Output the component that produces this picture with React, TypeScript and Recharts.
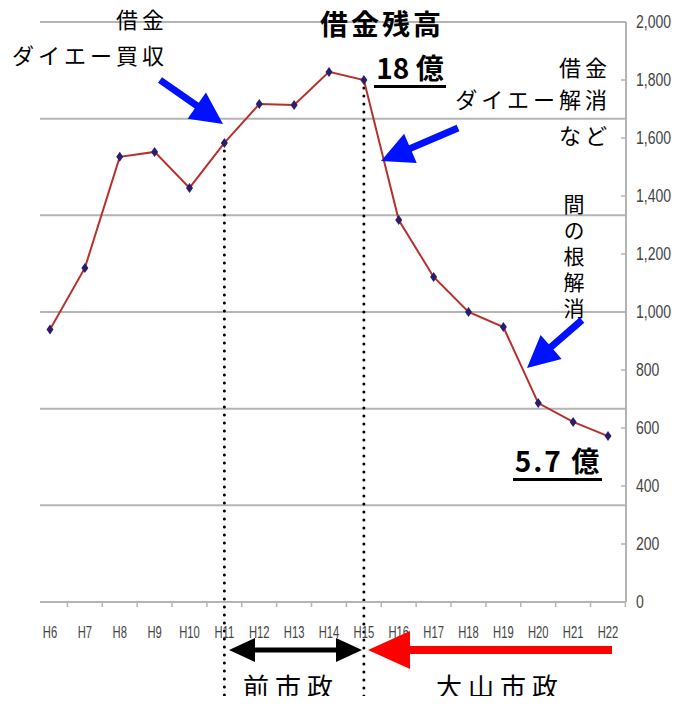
import { LineChart, Line, XAxis, YAxis, ReferenceLine } from "recharts";

const years = ["H6", "H7", "H8", "H9", "H10", "H11", "H12", "H13", "H14", "H15", "H16", "H17", "H18", "H19", "H20", "H21", "H22"];
const debt = [940, 1152, 1535, 1552, 1428, 1583, 1717, 1714, 1828, 1800, 1317, 1121, 1000, 948, 686, 621, 572];
const yTicks = [0, 200, 400, 600, 800, 1000, 1200, 1400, 1600, 1800, 2000];
const gridLevels = [333.3, 666.7, 1000, 1333.3, 1666.7, 2000];

const data = years.map((y, i) => ({ year: y, debt: debt[i] }));

const JP = '"Noto Sans CJK JP", "Noto Sans", sans-serif';
const AXIS_FONT = '"Liberation Sans", Arial, sans-serif';

function Diamond(props: any) {
  const { cx, cy } = props;
  if (cx == null || cy == null) return null;
  return <polygon points={`${cx},${cy - 5} ${cx + 3.5},${cy} ${cx},${cy + 5} ${cx - 3.5},${cy}`} fill="#2a1d6e" />;
}

// narrow excel-like tick labels
function YTick(props: any) {
  const { x, y, payload } = props;
  return (
    <g>
      <line x1={x - 5} y1={y} x2={x} y2={y} stroke="#b4b4b4" strokeWidth={1.5} />
      <text
        x={0}
        y={0}
        transform={`translate(${x + 10},${y + 1}) scale(0.78,1)`}
        fontSize={18}
        fill="#444"
        fontFamily={AXIS_FONT}
        dominantBaseline="middle"
      >
        {Number(payload.value).toLocaleString("en-US")}
      </text>
    </g>
  );
}

function XTick(props: any) {
  const { x, y, payload } = props;
  return (
    <g>
      <line x1={x + 17.4} y1={y} x2={x + 17.4} y2={y + 5} stroke="#b4b4b4" strokeWidth={1.5} />
      <text
        x={0}
        y={0}
        transform={`translate(${x},${y + 32}) scale(0.66,1)`}
        fontSize={17}
        fill="#444"
        fontFamily={AXIS_FONT}
        textAnchor="middle"
        dominantBaseline="middle"
      >
        {payload.value}
      </text>
    </g>
  );
}

// thick arrow: tail -> tip
function Arrow({ x1, y1, x2, y2, color, w = 7, hl = 32, hw = 32 }: any) {
  const dx = x2 - x1, dy = y2 - y1;
  const len = Math.hypot(dx, dy);
  const ux = dx / len, uy = dy / len;
  const nx = -uy, ny = ux;
  const bx = x2 - ux * hl, by = y2 - uy * hl;
  const pts = [
    [x1 + nx * w / 2, y1 + ny * w / 2],
    [bx + nx * w / 2, by + ny * w / 2],
    [bx + nx * hw / 2, by + ny * hw / 2],
    [x2, y2],
    [bx - nx * hw / 2, by - ny * hw / 2],
    [bx - nx * w / 2, by - ny * w / 2],
    [x1 - nx * w / 2, y1 - ny * w / 2],
  ];
  return <polygon points={pts.map((p) => p.join(",")).join(" ")} fill={color} />;
}

function DoubleArrow({ x1, x2, y, w = 5, hl = 26, hw = 24 }: any) {
  const pts = [
    [x1, y],
    [x1 + hl, y - hw / 2],
    [x1 + hl, y - w / 2],
    [x2 - hl, y - w / 2],
    [x2 - hl, y - hw / 2],
    [x2, y],
    [x2 - hl, y + hw / 2],
    [x2 - hl, y + w / 2],
    [x1 + hl, y + w / 2],
    [x1 + hl, y + hw / 2],
  ];
  return <polygon points={pts.map((p) => p.join(",")).join(" ")} fill="#000" />;
}

export default function App() {
  return (
    <div style={{ position: "relative", width: 686, height: 704, margin: -8, background: "#fff" }}>
      <LineChart width={686} height={704} data={data} margin={{ top: 22, right: 10, left: 40, bottom: 72 }}>
        {gridLevels.map((g) => (
          <ReferenceLine key={g} y={g} stroke="#b4b4b4" strokeWidth={2} />
        ))}
        <XAxis
          dataKey="year"
          padding={{ left: 10, right: 18 }}
          tickLine={false}
          tickSize={0}
          tickMargin={0}
          axisLine={{ stroke: "#b4b4b4", strokeWidth: 2 }}
          tick={<XTick />}
          interval={0}
          height={30}
        />
        <YAxis
          orientation="right"
          domain={[0, 2000]}
          ticks={yTicks}
          axisLine={{ stroke: "#b4b4b4", strokeWidth: 2 }}
          tickLine={false}
          tickSize={0}
          tickMargin={0}
          tick={<YTick />}
          width={50}
        />
        <ReferenceLine
          segment={[{ x: "H11", y: 1583 }, { x: "H11", y: -360 }]}
          ifOverflow="visible"
          stroke="#000"
          strokeWidth={3}
          strokeDasharray="0 8"
          strokeLinecap="round"
        />
        <ReferenceLine
          segment={[{ x: "H15", y: 1800 }, { x: "H15", y: -360 }]}
          ifOverflow="visible"
          stroke="#000"
          strokeWidth={3}
          strokeDasharray="0 8"
          strokeLinecap="round"
        />
        <Line
          type="linear"
          dataKey="debt"
          stroke="#b8302c"
          strokeWidth={2}
          dot={<Diamond />}
          activeDot={false}
          isAnimationActive={false}
        />
      </LineChart>
      <svg width={686} height={704} style={{ position: "absolute", left: 0, top: 0, pointerEvents: "none" }}>
        <g fontFamily={JP} fill="#000">
          <text x={142} y={28} fontSize={22} letterSpacing={4} textAnchor="middle">借金</text>
          <text x={90} y={64} fontSize={22} letterSpacing={4} textAnchor="middle">ダイエー買収</text>
          <text x={382} y={35} fontSize={28} letterSpacing={3} fontWeight="bold" textAnchor="middle">借金残高</text>
          <text x={410} y={79} fontSize={28} fontWeight="bold" textAnchor="middle">18 億</text>
          <rect x={374} y={85} width={72} height={3} />
          <text x={611} y={76} fontSize={22} letterSpacing={4} textAnchor="end">借金</text>
          <text x={611} y={108} fontSize={22} letterSpacing={4} textAnchor="end">ダイエー解消</text>
          <text x={611} y={144} fontSize={22} letterSpacing={4} textAnchor="end">など</text>
          <text
            x={574}
            y={194}
            fontSize={21}
            letterSpacing={5}
            style={{ writingMode: "vertical-rl" }}
          >
            間の根解消
          </text>
          <text x={558} y={472} fontSize={28} letterSpacing={2} fontWeight="bold" textAnchor="middle">5.7 億</text>
          <rect x={513} y={478} width={89} height={3} />
          <text x={291} y={697} fontSize={26} letterSpacing={6} textAnchor="middle">前市政</text>
          <text x={500} y={697} fontSize={26} letterSpacing={6} textAnchor="middle">大山市政</text>
        </g>
        <Arrow x1={160} y1={80} x2={223} y2={124} color="#0011ff" />
        <Arrow x1={458} y1={128} x2={381} y2={161} color="#0011ff" />
        <Arrow x1={582} y1={320} x2={527} y2={368} color="#0011ff" />
        <Arrow x1={612} y1={650} x2={368} y2={650} color="#ff0000" w={8} hl={42} hw={38} />
        <DoubleArrow x1={229} x2={362} y={650} />
      </svg>
    </div>
  );
}
